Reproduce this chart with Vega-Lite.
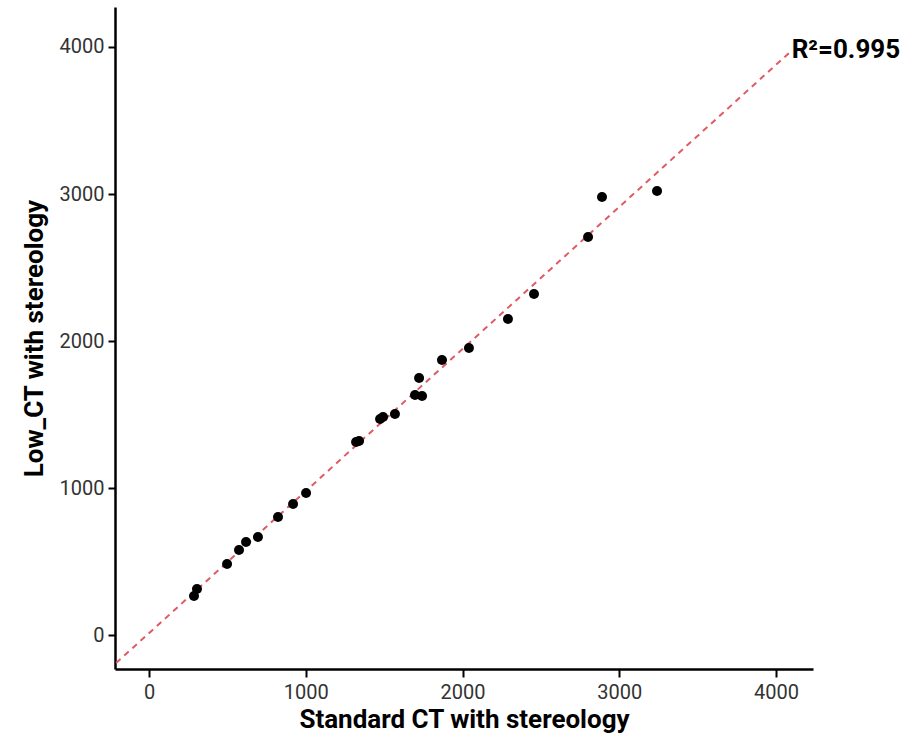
{
  "$schema": "https://vega.github.io/schema/vega-lite/v6.json",
  "width": 698,
  "height": 662,
  "autosize": "none",
  "padding": {"left": 115, "top": 7, "right": 96, "bottom": 77},
  "background": "white",
  "config": {"view": {"stroke": null}, "font": "Roboto"},
  "datasets": {
    "pts": [
      {"std": 287, "low": 265}, {"std": 306, "low": 313}, {"std": 498, "low": 483},
      {"std": 574, "low": 578}, {"std": 619, "low": 633}, {"std": 695, "low": 667},
      {"std": 823, "low": 803}, {"std": 919, "low": 891}, {"std": 1002, "low": 966},
      {"std": 1321, "low": 1313}, {"std": 1340, "low": 1320}, {"std": 1474, "low": 1469},
      {"std": 1493, "low": 1483}, {"std": 1569, "low": 1503}, {"std": 1697, "low": 1633},
      {"std": 1742, "low": 1626}, {"std": 1723, "low": 1748}, {"std": 1869, "low": 1871},
      {"std": 2041, "low": 1952}, {"std": 2290, "low": 2150}, {"std": 2456, "low": 2320},
      {"std": 2801, "low": 2707}, {"std": 2890, "low": 2980}, {"std": 3241, "low": 3020}
    ],
    "fit": [{"std": -210, "low": -190}, {"std": 4083, "low": 3959}],
    "label": [{"std": 4100, "low": 3959, "text": "R²=0.995"}]
  },
  "layer": [
    {
      "data": {"name": "fit"},
      "mark": {"type": "line", "color": "#e05a64", "strokeDash": [6, 5], "strokeWidth": 2, "clip": true},
      "encoding": {
        "x": {"field": "std", "type": "quantitative"},
        "y": {"field": "low", "type": "quantitative"}
      }
    },
    {
      "data": {"name": "pts"},
      "mark": {"type": "circle", "size": 100, "color": "black", "opacity": 1},
      "encoding": {
        "x": {
          "field": "std", "type": "quantitative",
          "scale": {"domain": [-217, 4236], "nice": false, "zero": false},
          "axis": {
            "title": "Standard CT with stereology",
            "values": [0, 1000, 2000, 3000, 4000], "format": "d",
            "grid": false, "domainColor": "black", "domainWidth": 2.5,
            "tickColor": "black", "tickWidth": 2, "tickSize": 8,
            "labelFontSize": 20, "labelColor": "#333333", "labelPadding": 5,
            "labelFlush": false,
            "titleFontSize": 26, "titleFontWeight": "bold", "titleColor": "black", "titlePadding": 4
          }
        },
        "y": {
          "field": "low", "type": "quantitative",
          "scale": {"domain": [-231, 4272], "nice": false, "zero": false},
          "axis": {
            "title": "Low_CT with stereology",
            "values": [0, 1000, 2000, 3000, 4000], "format": "d",
            "grid": false, "domainColor": "black", "domainWidth": 2.5,
            "tickColor": "black", "tickWidth": 2, "tickSize": 7,
            "labelFontSize": 20, "labelColor": "#333333", "labelPadding": 4,
            "labelFlush": false,
            "titleFontSize": 26, "titleFontWeight": "bold", "titleColor": "black", "titlePadding": 12
          }
        }
      }
    },
    {
      "data": {"name": "label"},
      "mark": {"type": "text", "align": "left", "baseline": "bottom", "dy": 10, "fontSize": 26, "fontWeight": "bold", "color": "black"},
      "encoding": {
        "x": {"field": "std", "type": "quantitative"},
        "y": {"field": "low", "type": "quantitative"},
        "text": {"field": "text"}
      }
    }
  ]
}
